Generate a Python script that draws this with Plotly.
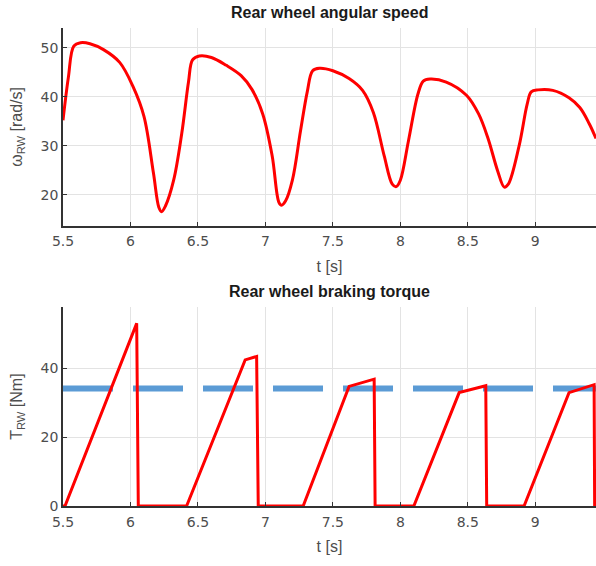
import plotly.graph_objects as go
from plotly.subplots import make_subplots

# Rear wheel angular speed [rad/s] vs time [s]
t_speed = [5.50, 5.54, 5.58, 5.63, 5.70, 5.80, 5.92, 6.02, 6.10, 6.17, 6.21, 6.23, 6.26,
           6.32, 6.38, 6.43, 6.46, 6.51, 6.60, 6.71, 6.82, 6.90, 6.98, 7.05, 7.10, 7.12,
           7.15, 7.20, 7.26, 7.31, 7.35, 7.40, 7.50, 7.62, 7.72, 7.80, 7.88, 7.94, 7.97,
           8.00, 8.06, 8.13, 8.17, 8.22, 8.34, 8.49, 8.58, 8.65, 8.72, 8.77, 8.80, 8.88,
           8.94, 8.97, 9.02, 9.13, 9.25, 9.33, 9.40, 9.45]
omega_rw = [35.2, 44.0, 50.3, 51.0, 50.8, 49.6, 47.0, 42.0, 36.0, 24.5, 17.5, 16.6, 17.8,
            23.0, 32.5, 43.0, 47.5, 48.3, 48.0, 46.4, 44.3, 41.5, 36.5, 28.0, 18.5, 17.9,
            18.8, 23.0, 33.0, 41.0, 45.3, 45.8, 45.3, 43.7, 41.3, 36.8, 28.0, 22.2, 21.7,
            23.0, 31.0, 40.5, 43.2, 43.6, 43.0, 40.3, 36.5, 31.5, 25.0, 21.6, 22.2, 30.0,
            38.5, 41.0, 41.4, 41.3, 39.8, 37.8, 34.5, 31.5]

# Rear wheel braking torque [Nm] vs time [s]
t_torque = [5.50, 5.515, 6.046, 6.058, 6.416, 6.85, 6.935, 6.947, 7.28, 7.62, 7.806, 7.813,
            8.10, 8.436, 8.633, 8.64, 8.917, 9.25, 9.436, 9.44, 9.45]
torque_rw = [0, 0, 53.0, 0, 0, 42.4, 43.4, 0, 0, 34.7, 36.8, 0,
             0, 32.9, 34.9, 0, 0, 32.9, 35.2, 0, 0]

# Torque threshold level [Nm]
t_limit = [5.5, 9.45]
torque_limit = [34.1, 34.1]

x_range = [5.5, 9.45]
x_ticks = [5.5, 6, 6.5, 7, 7.5, 8, 8.5, 9]
x_tick_labels = ["5.5", "6", "6.5", "7", "7.5", "8", "8.5", "9"]
speed_ticks = [20, 30, 40, 50]
torque_ticks = [0, 20, 40]

fig = make_subplots(rows=2, cols=1, vertical_spacing=0.17)

fig.add_trace(go.Scatter(x=t_speed, y=omega_rw, mode="lines", line_shape="spline",
                         line=dict(color="#ff0000", width=3)), row=1, col=1)
fig.add_trace(go.Scatter(x=t_limit, y=torque_limit, mode="lines",
                         line=dict(color="#5b9bd5", width=6, dash="50px,20px")), row=2, col=1)
fig.add_trace(go.Scatter(x=t_torque, y=torque_rw, mode="lines",
                         line=dict(color="#ff0000", width=3)), row=2, col=1)

tick_font = dict(family="DejaVu Sans, sans-serif", size=14, color="#4d4d4d")
label_font = dict(family="Liberation Sans, Arial, sans-serif", size=16, color="#4d4d4d")
axis_common = dict(showgrid=True, gridcolor="#e3e3e3", gridwidth=1, zeroline=False,
                   showline=True, linecolor="#333333", linewidth=1.5,
                   ticks="inside", ticklen=4, tickcolor="#333333", tickfont=tick_font)

fig.update_xaxes(range=x_range, tickvals=x_ticks, ticktext=x_tick_labels, ticklabelstandoff=2,
                 title=dict(text="t [s]", font=label_font, standoff=12), **axis_common)
fig.update_yaxes(**axis_common)
fig.update_yaxes(range=[13.7, 54], tickvals=speed_ticks,
                 title=dict(text="ω<sub>RW</sub> [rad/s]", font=label_font, standoff=14), row=1, col=1)
fig.update_yaxes(range=[0, 57.7], tickvals=torque_ticks,
                 title=dict(text="T<sub>RW</sub> [Nm]", font=label_font, standoff=14), row=2, col=1)

fig.update_layout(
    width=596, height=566,
    margin=dict(l=63, r=0, t=28, b=60),
    plot_bgcolor="white", paper_bgcolor="white",
    showlegend=False,
    yaxis=dict(domain=[0.586, 1.0]),
    yaxis2=dict(domain=[0.0, 0.416]),
)

title_font = dict(family="Liberation Sans Narrow, Liberation Sans, Arial, sans-serif",
                  size=16, color="#1a1a1a")
fig.add_annotation(text="<b>Rear wheel angular speed</b>", x=0.5, xref="paper",
                   y=1.0, yref="paper", yanchor="bottom", yshift=5,
                   showarrow=False, font=title_font)
fig.add_annotation(text="<b>Rear wheel braking torque</b>", x=0.5, xref="paper",
                   y=0.416, yref="paper", yanchor="bottom", yshift=5,
                   showarrow=False, font=title_font)

fig.write_html("out.html")
